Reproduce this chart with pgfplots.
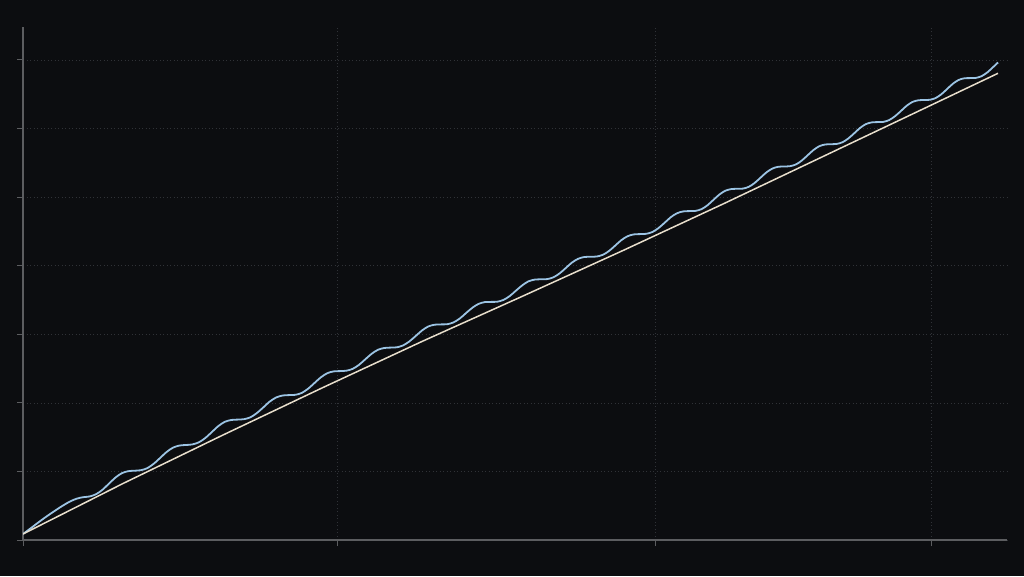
\documentclass[border=0pt]{standalone}
\usepackage{pgfplots}
\pgfplotsset{compat=1.18}

\definecolor{bg}{RGB}{12,13,16}
\definecolor{axisgray}{RGB}{92,93,96}
\definecolor{gridgray}{RGB}{48,50,55}
\definecolor{cream}{RGB}{232,222,204}
\definecolor{wave}{RGB}{156,196,228}

\begin{document}
\begin{tikzpicture}
    % page = 1024 x 576, one unit = one pixel
    \fill[bg] (-23pt,-36pt) rectangle (1001pt,540pt);
    \useasboundingbox (-23pt,-36pt) rectangle (1001pt,540pt);
    \begin{axis}[
        at={(0pt,0pt)}, anchor=south west,
        scale only axis,
        width=984pt, height=513pt,
        xmin=0, xmax=984,
        ymin=0, ymax=513,
        axis lines=left,
        axis line style={-, draw=axisgray, line width=1.2pt},
        tick align=outside,
        major tick length=6pt,
        tick style={draw=axisgray, line width=1pt},
        xtick={0,314,632,908},
        ytick={0,68.6,137.1,205.7,274.3,342.9,411.4,480},
        xticklabels={}, yticklabels={},
        grid=major,
        major grid style={draw=gridgray, line width=0.8pt, dash pattern=on 1pt off 2.5pt},
    ]
    \addplot[wave, line width=1.8pt, smooth] table {
        x y
        0 6
        10 13.5
        20 21
        30 28
        40 34.5
        47 38.5
        53.6 41.3
        60 42.8
        66.4 43.5
        72.9 45.7
        79.3 50.1
        85.8 56.2
        92.2 62.2
        98.6 66.7
        105.1 68.8
        111.5 69.3
        117.9 69.8
        124.4 71.9
        130.8 76.3
        137.3 82.2
        143.7 88.1
        150.1 92.4
        156.6 94.5
        163 95.0
        169.4 95.6
        175.9 97.7
        182.3 102.0
        188.8 107.9
        195.2 113.8
        201.6 118.1
        208.1 120.0
        214.5 120.4
        220.9 120.8
        227.4 122.7
        233.8 126.9
        240.3 132.6
        246.7 138.4
        253.1 142.5
        259.6 144.5
        266 144.9
        272.4 145.2
        278.8 147.1
        285.1 151.3
        291.5 157.0
        297.9 162.7
        304.3 166.8
        310.6 168.6
        317 168.9
        323.3 169.3
        329.6 171.1
        335.9 175.1
        342.3 180.7
        348.6 186.2
        354.9 190.2
        361.2 192.0
        367.5 192.4
        373.8 192.7
        380.1 194.6
        386.4 198.6
        392.8 204.1
        399.1 209.6
        405.4 213.6
        411.7 215.3
        418 215.6
        424.3 215.8
        430.5 217.6
        436.8 221.5
        443 226.9
        449.3 232.2
        455.5 236.1
        461.8 237.9
        468 238.1
        474.3 238.3
        480.5 240.1
        486.8 244.0
        493 249.4
        499.3 254.7
        505.5 258.7
        511.8 260.4
        518 260.7
        524.2 260.9
        530.4 262.7
        536.6 266.6
        542.8 272.0
        548.9 277.4
        555.1 281.2
        561.3 283.0
        567.5 283.2
        573.7 283.5
        579.9 285.2
        586.1 289.1
        592.3 294.5
        598.4 299.9
        604.6 303.8
        610.8 305.6
        617 305.9
        623.2 306.2
        629.4 308.0
        635.6 312.0
        641.8 317.4
        647.9 322.9
        654.1 326.8
        660.3 328.6
        666.5 328.9
        672.4 329.1
        678.4 330.8
        684.3 334.6
        690.3 340.0
        696.2 345.3
        702.1 349.2
        708.1 350.9
        714 351.2
        719.9 351.4
        725.8 353.2
        731.6 357.0
        737.5 362.3
        743.4 367.6
        749.3 371.4
        755.1 373.2
        761 373.5
        766.9 373.8
        772.8 375.5
        778.6 379.3
        784.5 384.6
        790.4 389.9
        796.3 393.8
        802.1 395.5
        808 395.8
        813.8 396.1
        819.6 397.8
        825.4 401.6
        831.3 406.8
        837.1 412.1
        842.9 415.9
        848.7 417.6
        854.5 417.9
        860.3 418.1
        866.1 419.9
        871.9 423.7
        877.8 428.9
        883.6 434.2
        889.4 438.0
        895.2 439.7
        901 440.0
        906.8 440.2
        912.5 441.9
        918.3 445.7
        924 450.9
        929.8 456.2
        935.5 460.0
        941.3 461.7
        947 461.9
        952.8 462.1
        958.5 463.8
        964.3 467.6
        970 472.8
        975 477.5
    };
    \addplot[cream, line width=1.5pt] coordinates {
        (0,6) (100,56.5) (200,105) (300,152.5) (400,199) (500,244)
        (600,289.5) (700,336) (800,383.5) (900,431) (975,466.7)
    };
    \end{axis}
\end{tikzpicture}
\end{document}
